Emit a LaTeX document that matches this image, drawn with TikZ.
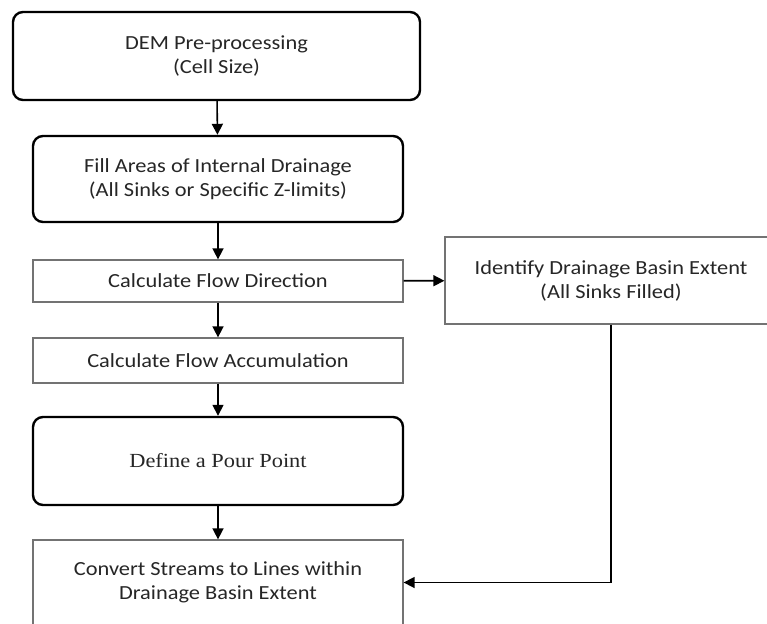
\documentclass[tikz,border=0pt]{standalone}
\usepackage{fontspec}
\setmainfont{Carlito}[FakeStretch=1.12]
\newfontfamily\timesfont{Liberation Serif}[FakeStretch=1.12]
\usetikzlibrary{arrows.meta}
\begin{document}
\begin{tikzpicture}[x=1pt,y=-1pt,
  thickbox/.style={draw=black,line width=2.4pt,rounded corners=10pt,fill=white,text=black!85,align=center,font=\fontsize{20}{24}\selectfont},
  thinbox/.style={draw=black!55,line width=1.3pt,fill=white,text=black!85,align=center,font=\fontsize{20}{24}\selectfont},
  arr/.style={line width=1.6pt,-{Triangle[length=11pt,width=11pt]}}]
\useasboundingbox (0,0) rectangle (767,623);
\clip (0,0) rectangle (767,623);
\node[thickbox,minimum width=407pt,minimum height=88pt] (dem) at (216.5,56) {DEM Pre-processing\\(Cell Size)};
\node[thickbox,minimum width=370pt,minimum height=86pt] (fill) at (218,179) {Fill Areas of Internal Drainage\\(All Sinks or Specific Z-limits)};
\node[thinbox,minimum width=370pt,minimum height=42pt] (dir) at (218,281) {Calculate Flow Direction};
\node[thinbox,minimum width=370pt,minimum height=45pt] (acc) at (218,360.5) {Calculate Flow Accumulation};
\node[thickbox,minimum width=370pt,minimum height=88pt,font=\timesfont\fontsize{20}{24}\selectfont] (pour) at (218,461) {Define a Pour Point};
\node[thinbox,minimum width=370pt,minimum height=85pt] (conv) at (218,582.5) {Convert Streams to Lines within\\Drainage Basin Extent};
\node[thinbox,minimum width=332pt,minimum height=87pt] (ident) at (611,280.5) {Identify Drainage Basin Extent\\(All Sinks Filled)};
\draw[arr] (dem) -- (fill);
\draw[arr] (fill) -- (dir);
\draw[arr] (dir) -- (acc);
\draw[arr] (acc) -- (pour);
\draw[arr] (pour) -- (conv);
\draw[arr] (dir) -- (ident);
\draw[arr] (ident.south) |- (conv.east);
\end{tikzpicture}
\end{document}
